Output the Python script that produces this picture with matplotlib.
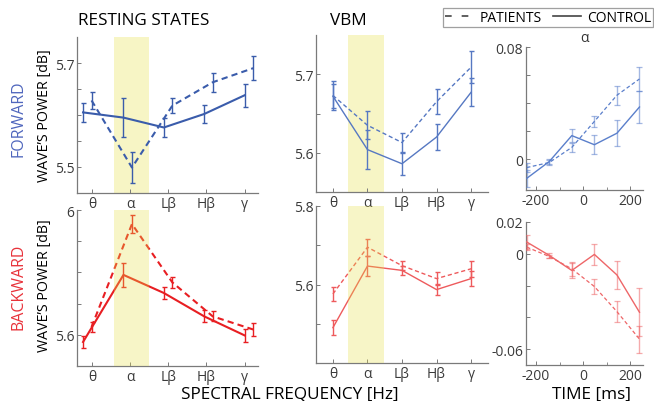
import numpy as np
import matplotlib
matplotlib.use("Agg")
import matplotlib.pyplot as plt
from matplotlib.lines import Line2D

plt.rcParams['font.family'] = ['Open Sans', 'DejaVu Sans']

bands = ['θ', 'α', 'Lβ', 'Hβ', 'γ']
times = [-240, -144, -48, 48, 144, 240]

# resting states, forward
rest_fw_ctrl = [5.605, 5.595, 5.576, 5.602, 5.638]
rest_fw_ctrl_err = [0.019, 0.037, 0.018, 0.018, 0.022]
rest_fw_pat = [5.628, 5.499, 5.618, 5.663, 5.690]
rest_fw_pat_err = [0.016, 0.030, 0.015, 0.018, 0.023]
# resting states, backward
rest_bw_ctrl = [5.577, 5.792, 5.734, 5.659, 5.598]
rest_bw_ctrl_err = [0.020, 0.038, 0.019, 0.019, 0.022]
rest_bw_pat = [5.625, 5.955, 5.768, 5.659, 5.617]
rest_bw_pat_err = [0.016, 0.028, 0.017, 0.016, 0.022]

# VBM
vbm_fw_ctrl = [5.672, 5.604, 5.586, 5.620, 5.677]
vbm_fw_ctrl_err = [0.015, 0.025, 0.014, 0.016, 0.018]
vbm_fw_pat = [5.673, 5.635, 5.613, 5.665, 5.709]
vbm_fw_pat_err = [0.018, 0.018, 0.012, 0.016, 0.020]
vbm_bw_ctrl = [5.490, 5.647, 5.636, 5.587, 5.615]
vbm_bw_ctrl_err = [0.019, 0.025, 0.012, 0.015, 0.020]
vbm_bw_pat = [5.576, 5.695, 5.648, 5.615, 5.640]
vbm_bw_pat_err = [0.017, 0.022, 0.012, 0.016, 0.020]

# alpha time course
t_fw_ctrl = [-0.0137, -0.0017, 0.0168, 0.0103, 0.0185, 0.0372]
t_fw_ctrl_err = [0.006, 0.002, 0.0045, 0.0068, 0.0092, 0.0116]
t_fw_pat = [-0.0060, -0.0024, 0.0084, 0.0269, 0.0456, 0.0572]
t_fw_pat_err = [0.003, 0.0015, 0.003, 0.0042, 0.0067, 0.0084]
t_bw_ctrl = [0.0074, -0.0010, -0.0105, -0.0004, -0.0133, -0.0368]
t_bw_ctrl_err = [0.0045, 0.0015, 0.0047, 0.0068, 0.0090, 0.0150]
t_bw_pat = [0.0042, -0.0017, -0.0095, -0.0206, -0.0364, -0.0537]
t_bw_pat_err = [0.002, 0.001, 0.0042, 0.0045, 0.0065, 0.0085]

W, H = 654, 402
fig = plt.figure(figsize=(W / 100, H / 100), dpi=100)


def px_axes(x0, y0, x1, y1):
    a = fig.add_axes([x0 / W, 1 - y1 / H, (x1 - x0) / W, (y1 - y0) / H])
    a.set_facecolor('none')
    return a


def style(ax):
    for s in ['top', 'right']:
        ax.spines[s].set_visible(False)
    for s in ['left', 'bottom']:
        ax.spines[s].set_color('#7a7a7a')
        ax.spines[s].set_linewidth(0.9)
    ax.tick_params(direction='in', length=3, width=0.7, color='#7a7a7a',
                   labelsize=10, labelcolor='#3a3a3a', pad=2)
    ax.tick_params(which='minor', direction='in', length=2, width=0.6, color='#7a7a7a')


def ylabels(ax, ticks, shown):
    ax.set_yticks(ticks)
    ax.set_yticklabels([shown.get(round(t, 3), '') for t in ticks])


def band_plot(ax, xs, xd, ctrl, cerr, pat, perr, color, lw, span, over):
    ax.errorbar(xs, ctrl, yerr=cerr, color=color, lw=lw, elinewidth=1.0,
                capsize=1.8, capthick=1.0, zorder=3)
    ax.errorbar(xd, pat, yerr=perr, color=color, lw=lw, ls=(0, (3, 2)),
                elinewidth=1.0, capsize=1.8, capthick=1.0, zorder=3)
    if over:
        ax.axvspan(span[0], span[1], color='#e6de47', alpha=0.3, lw=0, zorder=5)
    else:
        ax.axvspan(span[0], span[1], color='#f7f5c5', lw=0, zorder=1)


xpos = np.arange(1, 6)

# ---------- resting states ----------
blue1 = '#3a5cab'
red1 = '#e81e22'
for row, (ctrl, cerr, pat, perr, col, lim, ticks, shown, over) in enumerate([
        (rest_fw_ctrl, rest_fw_ctrl_err, rest_fw_pat, rest_fw_pat_err, blue1,
         (5.45, 5.75), np.arange(5.5, 5.71, 0.05), {5.5: '5.5', 5.7: '5.7'}, False),
        (rest_bw_ctrl, rest_bw_ctrl_err, rest_bw_pat, rest_bw_pat_err, red1,
         (5.5, 6.0), np.arange(5.6, 6.01, 0.1), {5.6: '5.6', 6.0: '6'}, True)]):
    if row == 0:
        ax = px_axes(77, 38, 258, 194)
    else:
        ax = px_axes(77, 211, 258, 367)
    band_plot(ax, xpos, xpos + 0.21, ctrl, cerr, pat, perr, col, 1.5, (1.77, 2.63), over)
    ax.set_xlim(0.85, 5.33)
    ax.set_ylim(*lim)
    ax.set_xticks(np.linspace(1.22, 5.0, 5))
    ax.set_xticklabels(bands)
    ylabels(ax, ticks, shown)
    style(ax)

# ---------- VBM ----------
blue2 = '#5678c2'
red2 = '#ee5a5c'
for row, (ctrl, cerr, pat, perr, col, lim, ticks, shown, over) in enumerate([
        (vbm_fw_ctrl, vbm_fw_ctrl_err, vbm_fw_pat, vbm_fw_pat_err, blue2,
         (5.55, 5.75), np.arange(5.6, 5.71, 0.05), {5.6: '5.6', 5.7: '5.7'}, False),
        (vbm_bw_ctrl, vbm_bw_ctrl_err, vbm_bw_pat, vbm_bw_pat_err, red2,
         (5.4, 5.8), np.arange(5.5, 5.81, 0.1), {5.6: '5.6', 5.8: '5.8'}, True)]):
    if row == 0:
        ax = px_axes(316, 36, 488, 193)
    else:
        ax = px_axes(316, 207, 488, 364)
    band_plot(ax, xpos, xpos, ctrl, cerr, pat, perr, col, 1.0, (1.43, 2.48), over)
    ax.set_xlim(0.51, 5.49)
    ax.set_ylim(*lim)
    ax.set_xticks(xpos)
    ax.set_xticklabels(bands)
    ylabels(ax, ticks, shown)
    style(ax)

# ---------- alpha time course ----------
blue3 = '#5a7fcb'
red3 = '#ee6668'
for row, (ctrl, cerr, pat, perr, col, lim, ticks, shown) in enumerate([
        (t_fw_ctrl, t_fw_ctrl_err, t_fw_pat, t_fw_pat_err, blue3,
         (-0.022, 0.08), np.arange(0, 0.081, 0.02), {0.0: '0', 0.08: '0.08'}),
        (t_bw_ctrl, t_bw_ctrl_err, t_bw_pat, t_bw_pat_err, red3,
         (-0.07, 0.02), np.arange(-0.06, 0.021, 0.02), {-0.06: '-0.06', 0.0: '0', 0.02: '0.02'})]):
    if row == 0:
        ax = px_axes(526, 48, 643, 191)
    else:
        ax = px_axes(526, 223, 643, 366)
    ax.errorbar(times, ctrl, yerr=cerr, color=col, lw=1.0, elinewidth=1.0,
                capsize=2, capthick=0.9, zorder=3)
    ax.errorbar(times, pat, yerr=perr, color=col, lw=0.9, ls=(0, (3, 2)),
                elinewidth=1.0, capsize=2, capthick=0.9, zorder=3)
    for c in ax.containers:
        for art in c[1] + c[2]:
            art.set_alpha(0.55)
    ax.set_xlim(-243, 255)
    ax.set_ylim(*lim)
    ax.set_xticks([-200, 0, 200])
    ax.set_xticks([-100, 100], minor=True)
    ax.set_xticklabels(['-200', '0', '200'])
    ylabels(ax, ticks, shown)
    style(ax)
    if row == 0:
        ax.set_title('α', fontsize=10, pad=4, color='#333333')

# ---------- labels ----------
fig.text(144 / W, 1 - 21 / H, 'RESTING STATES', ha='center', va='center', fontsize=12.3)
fig.text(348 / W, 1 - 21 / H, 'VBM', ha='center', va='center', fontsize=12.3)
fig.text(18 / W, 1 - 119 / H, 'FORWARD', ha='center', va='center', rotation=90,
         fontsize=11.5, color='#4f66bd')
fig.text(18 / W, 1 - 287 / H, 'BACKWARD', ha='center', va='center', rotation=90,
         fontsize=11.5, color='#e8323a')
fig.text(45 / W, 1 - 116 / H, 'WAVE’S POWER [dB]', ha='center', va='center',
         rotation=90, fontsize=10.3)
fig.text(45 / W, 1 - 286 / H, 'WAVE’S POWER [dB]', ha='center', va='center',
         rotation=90, fontsize=10.3)
fig.text(290 / W, 1 - 395 / H, 'SPECTRAL FREQUENCY [Hz]', ha='center', va='center',
         fontsize=12.3)
fig.text(592 / W, 1 - 395 / H, 'TIME [ms]', ha='center', va='center', fontsize=12.3)

handles = [Line2D([], [], color='#444444', lw=1.2, ls=(0, (4, 6))),
           Line2D([], [], color='#444444', lw=1.2)]
leg = fig.legend(handles, ['PATIENTS', 'CONTROL'], ncol=2, loc='upper right',
                 bbox_to_anchor=(653 / W, 1 - 9 / H), borderaxespad=0,
                 fancybox=False, edgecolor='#888888', fontsize=10,
                 handlelength=2.0, columnspacing=0.8, handletextpad=0.45,
                 borderpad=0.15, frameon=True)
leg.get_frame().set_linewidth(0.9)

fig.savefig('out.png', dpi=100)
